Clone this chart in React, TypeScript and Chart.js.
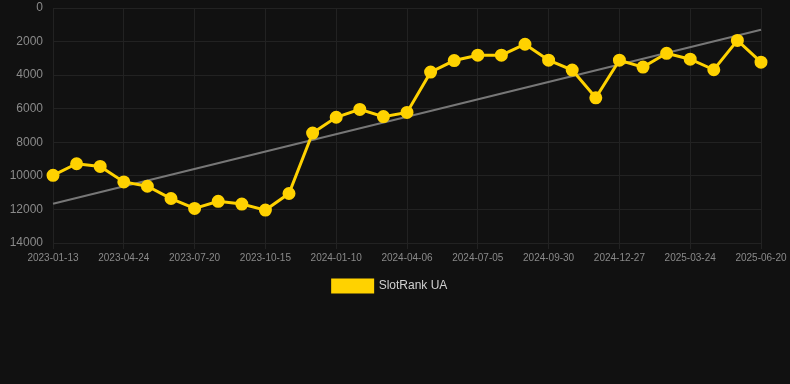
import React, { useEffect, useRef } from "react";
import { Chart, registerables } from "chart.js";

Chart.register(...registerables);

const labels: string[] = [
  "2023-01-13", "2023-02-14", "2023-03-20", "2023-04-24", "2023-05-23", "2023-06-21",
  "2023-07-20", "2023-08-18", "2023-09-16", "2023-10-15", "2023-11-13", "2023-12-12",
  "2024-01-10", "2024-02-08", "2024-03-08", "2024-04-06", "2024-05-06", "2024-06-05",
  "2024-07-05", "2024-08-03", "2024-09-01", "2024-09-30", "2024-10-29", "2024-11-28",
  "2024-12-27", "2025-01-25", "2025-02-23", "2025-03-24", "2025-04-22", "2025-05-22",
  "2025-06-20",
];

const rankValues: number[] = [
  9970, 9280, 9440, 10360, 10620, 11350, 11940, 11520, 11680, 12040, 11050,
  7450, 6510, 6040, 6470, 6220, 3820, 3130, 2810, 2810, 2160,
  3110, 3700, 5350, 3110, 3520, 2700, 3050, 3680, 1930, 3230,
];

const trendStart = 11660;
const trendEnd = 1300;

const seriesLabel = "SlotRank UA";

export default function App() {
  const ref = useRef<HTMLCanvasElement | null>(null);

  useEffect(() => {
    document.body.style.margin = "0";
    document.body.style.background = "#111111";
    if (!ref.current) return;
    const trend = labels.map((_, i) =>
      i === 0 ? trendStart : i === labels.length - 1 ? trendEnd : null
    );
    const chart = new Chart(ref.current, {
      type: "line",
      data: {
        labels,
        datasets: [
          {
            label: seriesLabel,
            data: rankValues,
            borderColor: "#FFD200",
            backgroundColor: "#FFD200",
            borderWidth: 3,
            pointRadius: 5,
            pointHoverRadius: 5,
            pointBackgroundColor: "#FFD200",
            pointBorderColor: "#FFD200",
            tension: 0,
            order: 1,
          },
          {
            label: "trend",
            data: trend,
            borderColor: "#777777",
            backgroundColor: "#777777",
            borderWidth: 2,
            pointRadius: 0,
            spanGaps: true,
            order: 2,
          },
        ],
      },
      options: {
        animation: false,
        responsive: false,
        maintainAspectRatio: false,
        layout: { padding: { left: 0, right: 10, top: 0, bottom: 82 } },
        scales: {
          y: {
            reverse: true,
            min: 0,
            max: 14000,
            afterFit: (scale: any) => {
              scale.width = 53;
              scale.paddingTop = 6;
            },
            ticks: {
              stepSize: 2000,
              color: "#8a8a8a",
              font: { family: "Liberation Sans, Arial, sans-serif", size: 12 },
              padding: 10,
              callback: (v: any) => String(v),
            },
            grid: { color: "#222222", drawTicks: false },
            border: { display: false },
          },
          x: {
            afterFit: (scale: any) => {
              scale.paddingRight = 29;
            },
            ticks: {
              autoSkip: false,
              maxRotation: 0,
              color: "#8a8a8a",
              font: { family: "Liberation Sans, Arial, sans-serif", size: 10 },
              callback: function (_v: any, i: number) {
                return i % 3 === 0 ? labels[i] : null;
              },
            },
            grid: { color: "#222222", tickLength: 6 },
            border: { display: false },
          },
        },
        plugins: {
          legend: {
            position: "bottom",
            labels: {
              color: "#d0d0d0",
              boxWidth: 40,
              boxHeight: 12,
              padding: 13,
              font: { family: "Liberation Sans, Arial, sans-serif", size: 12 },
              filter: (item: any) => item.text === seriesLabel,
            },
          },
          tooltip: { enabled: false },
        },
      },
    });
    return () => chart.destroy();
  }, []);

  return (
    <div style={{ width: 790, height: 384, background: "#111111" }}>
      <canvas ref={ref} width={790} height={384} style={{ display: "block" }} />
    </div>
  );
}
